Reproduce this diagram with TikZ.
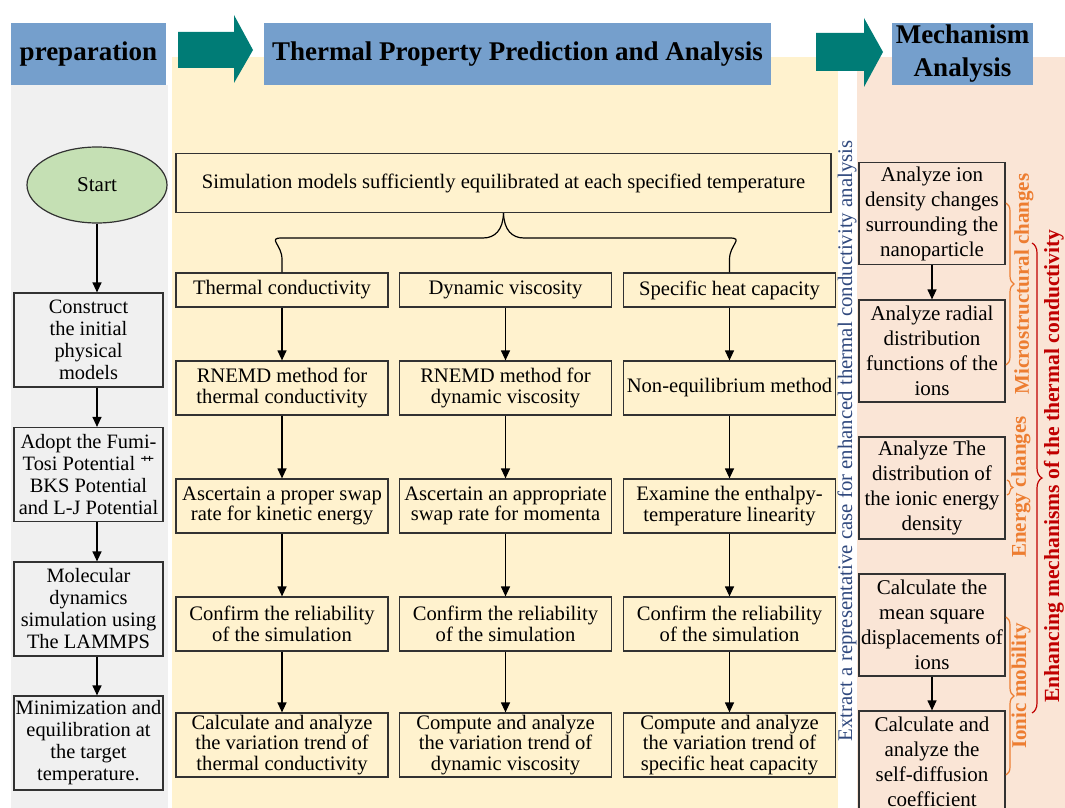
\documentclass[tikz,border=0pt]{standalone}
\usepackage{fontspec}
\setmainfont{Liberation Serif}
\newfontfamily\cjk{Noto Sans CJK SC}
\usetikzlibrary{arrows.meta,shapes.geometric,decorations.pathreplacing}

\definecolor{hdrblue}{RGB}{117,159,204}
\definecolor{arrowteal}{RGB}{0,124,118}
\definecolor{prepgray}{RGB}{240,240,240}
\definecolor{predyellow}{RGB}{255,242,206}
\definecolor{mechpeach}{RGB}{250,229,214}
\definecolor{startgreen}{RGB}{197,224,180}
\definecolor{boxline}{RGB}{50,50,50}
\definecolor{extractblue}{RGB}{47,72,125}
\definecolor{subor}{RGB}{237,125,49}
\definecolor{mainred}{RGB}{192,0,0}

\tikzset{
  >={Triangle[length=5pt,width=4.5pt]},
  hdr/.style={fill=hdrblue, inner sep=0pt, align=center,
    font=\fontsize{13.5}{16.5}\selectfont\bfseries},
  prepbox/.style={draw=boxline, line width=0.6pt, minimum width=74.5pt,
    minimum height=47pt, inner sep=0pt, align=center,
    font=\fontsize{10.2}{11}\selectfont},
  midbox/.style={draw=boxline, line width=0.6pt, minimum width=106pt,
    inner sep=0pt, align=center, font=\fontsize{10.3}{10.3}\selectfont},
  mechbox/.style={draw=boxline, line width=0.6pt, minimum width=73pt,
    minimum height=51pt, inner sep=0pt, align=center,
    font=\fontsize{10.5}{12.5}\selectfont},
  flow/.style={->, line width=0.6pt},
  subbrace/.style={subor, line width=0.6pt, decorate,
    decoration={brace, amplitude=4pt}},
  sublabel/.style={subor, rotate=90, font=\fontsize{10.5}{12}\selectfont\bfseries},
}

\begin{document}
\begin{tikzpicture}[x=0.5pt,y=-0.5pt]

    \path[use as bounding box] (0,0) rectangle (1065,808);
    \clip (0,0) rectangle (1065,808);

    % Fondos de las tres etapas
    \fill[prepgray] (11,85) rectangle (168,808);
    \fill[predyellow] (172,57) rectangle (838,808);
    \fill[mechpeach] (857,57) rectangle (1065,808);

    % Encabezados
    \node[hdr, minimum width=77.5pt, minimum height=31pt] (hprep) at (88.5,54) {preparation};
    \node[hdr, minimum width=253.5pt, minimum height=31pt] (hpred) at (517.5,54) {Thermal Property Prediction and Analysis};
    \node[hdr, minimum width=70.5pt, minimum height=31pt] (hmech) at (962.5,54) {Mechanism\\Analysis};

    % Flechas grandes entre etapas
    \fill[arrowteal] (178,32) -- (234,32) -- (234,15) -- (253,50) -- (234,83) -- (234,68) -- (178,68) -- cycle;
    \fill[arrowteal] (816,33) -- (864,33) -- (864,18) -- (883,52) -- (864,87) -- (864,71) -- (816,71) -- cycle;

    % Columna izquierda (preparación)
    \node[ellipse, draw=boxline, line width=0.6pt, fill=startgreen, minimum width=70pt,
      minimum height=38pt, inner sep=0pt, font=\fontsize{10.5}{12}\selectfont] (start) at (97,185) {Start};
    \node[prepbox] (cons) at (88.5,340) {Construct\\the initial\\physical\\models};
    \node[prepbox] (adopt) at (88.5,474.5) {Adopt the Fumi-\\Tosi Potential \raisebox{0.3ex}{\cjk\fontsize{7}{7}\selectfont 艹}\\BKS Potential\\and L-J Potential};
    \node[prepbox] (md) at (88.5,609) {Molecular\\dynamics\\simulation using\\The LAMMPS};
    \node[prepbox] (mini) at (88.5,743) {Minimization and\\equilibration at\\the target\\temperature.};

    \draw[flow] (start.south) -- (start.south |- cons.north);
    \draw[flow] (cons.south -| start) -- (adopt.north -| start);
    \draw[flow] (adopt.south -| start) -- (md.north -| start);
    \draw[flow] (md.south -| start) -- (mini.north -| start);

    % Columna central (propiedades)
    \node[midbox, minimum width=327.5pt, minimum height=29.5pt] (sim) at (503.5,183) {Simulation models sufficiently equilibrated at each specified temperature};

    \node[midbox, minimum height=17pt] (tc) at (282,290) {Thermal conductivity};
    \node[midbox, minimum height=17pt] (dv) at (505.5,290) {Dynamic viscosity};
    \node[midbox, minimum height=17pt] (shc) at (729.5,290) {Specific heat capacity};

    \node[midbox, minimum height=27pt] (tcm) at (282,388) {RNEMD method for\\thermal conductivity};
    \node[midbox, minimum height=27pt] (dvm) at (505.5,388) {RNEMD method for\\dynamic viscosity};
    \node[midbox, minimum height=27pt] (shcm) at (729.5,388) {Non-equilibrium method};

    \node[midbox, minimum height=27pt] (tcs) at (282,506) {Ascertain a proper swap\\rate for kinetic energy};
    \node[midbox, minimum height=27pt] (dvs) at (505.5,506) {Ascertain an appropriate\\swap rate for momenta};
    \node[midbox, minimum height=27pt] (shcs) at (729.5,506) {Examine the enthalpy-\\temperature linearity};

    \node[midbox, minimum height=27pt] (tcr) at (282,624) {Confirm the reliability\\of the simulation};
    \node[midbox, minimum height=27pt] (dvr) at (505.5,624) {Confirm the reliability\\of the simulation};
    \node[midbox, minimum height=27pt] (shcr) at (729.5,624) {Confirm the reliability\\of the simulation};

    \node[midbox, minimum height=32pt] (tca) at (282,745) {Calculate and analyze\\the variation trend of\\thermal conductivity};
    \node[midbox, minimum height=32pt] (dva) at (505.5,745) {Compute and analyze\\the variation trend of\\dynamic viscosity};
    \node[midbox, minimum height=32pt] (shca) at (729.5,745) {Compute and analyze\\the variation trend of\\specific heat capacity};

    % Llave que reparte a las tres propiedades
    \draw[line width=0.6pt] (tc.north) -- ++(0,-13) .. controls +(0,-15) and +(-15,0) .. (tc.north |- 0,238)
      -- (483,238) .. controls (495,238) and (503,230) .. (sim.south);
    \draw[line width=0.6pt] (shc.north) -- ++(0,-13) .. controls +(0,-15) and +(15,0) .. (shc.north |- 0,238)
      -- (524,238) .. controls (512,238) and (504,230) .. (sim.south);

    \foreach \c in {tc,dv,shc} {
      \draw[flow] (\c.south) -- (\c m.north);
      \draw[flow] (\c m.south) -- (\c s.north);
      \draw[flow] (\c s.south) -- (\c r.north);
      \draw[flow] (\c r.south) -- (\c a.north);
    }

    % Texto vertical de extracción
    \node[extractblue, rotate=90, font=\fontsize{10.4}{12}\selectfont] (extract) at (847,441)
      {Extract a representative case for enhanced thermal conductivity analysis};

    % Columna derecha (mecanismos)
    \node[mechbox] (dens) at (932,213.5) {Analyze ion\\density changes\\surrounding the\\nanoparticle};
    \node[mechbox] (rdf) at (932,351) {Analyze radial\\distribution\\functions of the\\ions};
    \node[mechbox] (ened) at (932,488) {Analyze The\\distribution of\\the ionic energy\\density};
    \node[mechbox] (msd) at (932,625) {Calculate the\\mean square\\displacements of\\ions};
    \node[mechbox] (diff) at (932,762) {Calculate and\\analyze the\\self-diffusion\\coefficient};

    \draw[flow] (dens) -- (rdf);
    \draw[flow] (msd) -- (diff);

    % Llaves y etiquetas
    \draw[subbrace] (1006,203) -- (1006,365);
    \draw[subbrace, decoration={amplitude=3pt}] (1007,480) -- (1007,495);
    \draw[subbrace] (1006,617) -- (1006,775);
    \node[sublabel] (micro) at (1024,284) {Microstructural changes};
    \node[sublabel] (energy) at (1021,487) {Energy changes};
    \node[sublabel] (ionic) at (1021,686) {Ionic mobility};

    \draw[mainred, line width=0.6pt, decorate, decoration={brace, amplitude=5pt}] (1032,243) -- (1032,713);
    \node[mainred, rotate=90, font=\fontsize{10.8}{12}\selectfont\bfseries] (enh) at (1054,466)
      {Enhancing mechanisms of the thermal conductivity};

\end{tikzpicture}
\end{document}
